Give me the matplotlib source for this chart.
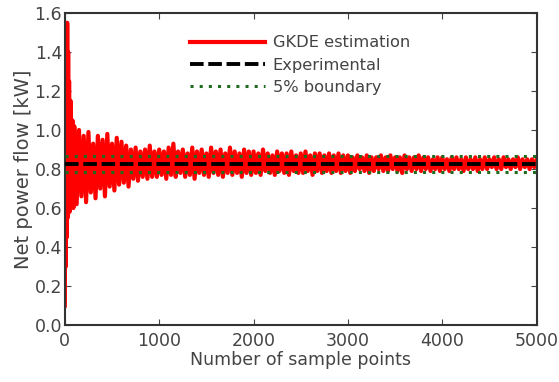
import matplotlib.pyplot as plt

plt.rcParams['font.family'] = ['DejaVu Sans']

# Experimental value and 5% bounds (kW)
experimental = 0.826
upper_bound = 0.867
lower_bound = 0.785

# GKDE estimate vs number of samples (first 100 samples)
early_x = [0, 5, 10, 15, 20, 25, 30, 35, 40, 45, 50, 60, 70, 80, 90, 100]
early_y = [0.10, 1.10, 0.30, 1.50, 0.45, 1.55, 0.55, 1.40, 0.62, 1.25,
           0.58, 1.15, 0.62, 1.05, 0.60, 1.02]

# after that, one reading every 25 samples (125 ... 5000)
main_x = list(range(125, 5001, 25))
main_y = [
    0.62, 1.00, 0.66, 0.97, 0.63, 0.99, 0.68, 0.93, 0.65, 0.97,
    0.70, 0.95, 0.66, 0.98, 0.71, 0.93, 0.69, 0.96, 0.72, 0.94,
    0.73, 0.92, 0.71, 0.90, 0.75, 0.91, 0.74, 0.89, 0.76, 0.90,
    0.75, 0.92, 0.76, 0.89,
    0.76, 0.90, 0.77, 0.89, 0.75, 0.91, 0.77, 0.93, 0.76, 0.89,
    0.78, 0.90, 0.76, 0.88, 0.77, 0.91, 0.75, 0.89, 0.78, 0.90,
    0.77, 0.88, 0.76, 0.91, 0.78, 0.89, 0.77, 0.90, 0.76, 0.88,
    0.78, 0.91, 0.77, 0.89, 0.78, 0.88, 0.76, 0.90, 0.78, 0.89,
    0.77, 0.89, 0.78, 0.88, 0.77, 0.90, 0.79, 0.88, 0.78, 0.87,
    0.77, 0.89, 0.79, 0.88, 0.78, 0.88, 0.77, 0.89, 0.79, 0.87,
    0.78, 0.88, 0.78, 0.89, 0.79, 0.87, 0.77, 0.88, 0.79, 0.88,
    0.78, 0.87, 0.79, 0.88, 0.78, 0.87, 0.79, 0.88, 0.78, 0.87,
    0.79, 0.87, 0.78, 0.86, 0.79, 0.87, 0.80, 0.86, 0.79, 0.87,
    0.78, 0.86, 0.79, 0.86, 0.80, 0.87, 0.79, 0.86, 0.79, 0.87,
    0.80, 0.86, 0.79, 0.86, 0.78, 0.87, 0.80, 0.86, 0.79, 0.86,
    0.80, 0.87, 0.79, 0.86, 0.80, 0.86, 0.79, 0.85, 0.80, 0.86,
    0.79, 0.86, 0.80, 0.85, 0.79, 0.86, 0.80, 0.86, 0.80, 0.85,
    0.79, 0.86, 0.80, 0.85, 0.80, 0.86, 0.79, 0.85, 0.80, 0.86,
    0.80, 0.85, 0.81, 0.86, 0.80, 0.85, 0.80, 0.86, 0.81, 0.85,
    0.80, 0.85, 0.81, 0.86, 0.80, 0.85, 0.81, 0.85, 0.80, 0.85,
    0.81, 0.85,
]

gkde_x = early_x + main_x
gkde_y = early_y + main_y

fig = plt.figure(figsize=(5.59, 3.82), dpi=100)
ax = fig.add_axes([0.116, 0.149, 0.844, 0.817])

ax.plot(gkde_x, gkde_y, color='red', lw=3, label='GKDE estimation', zorder=2)
ax.axhline(experimental, color='black', lw=2.8, ls=(0, (3.5, 1.2)), label='Experimental', zorder=3)
ax.axhline(upper_bound, color='#1f6b1f', lw=2.2, ls=(0, (1, 2.0)), label='5% boundary', zorder=3)
ax.axhline(lower_bound, color='#1f6b1f', lw=2.2, ls=(0, (1, 2.0)), zorder=3)

ax.set_xlim(0, 5000)
ax.set_ylim(0, 1.6)
ax.set_xticks([0, 1000, 2000, 3000, 4000, 5000])
ax.set_yticks([0.0, 0.2, 0.4, 0.6, 0.8, 1.0, 1.2, 1.4, 1.6])
ax.set_yticklabels(['0.0', '0.2', '0.4', '0.6', '0.8', '1.0', '1.2', '1.4', '1.6'])
ax.tick_params(direction='in', top=True, right=True, labelsize=12.5, colors='#444444', length=4)
ax.tick_params(axis='y', pad=2)
ax.tick_params(axis='x', pad=5)
for s in ax.spines.values():
    s.set_linewidth(1.5)
    s.set_color('#333333')

ax.set_xlabel('Number of sample points', fontsize=12.5, color='#444444', labelpad=1)
ax.set_ylabel('Net power flow [kW]', fontsize=14, color='#444444', labelpad=1)

leg = ax.legend(loc='upper left', bbox_to_anchor=(0.234, 0.975), frameon=False,
                fontsize=11.7, handlelength=4.6, handletextpad=0.5, labelspacing=0.45)
for t in leg.get_texts():
    t.set_color('#444444')

fig.savefig('out.png', dpi=100)
